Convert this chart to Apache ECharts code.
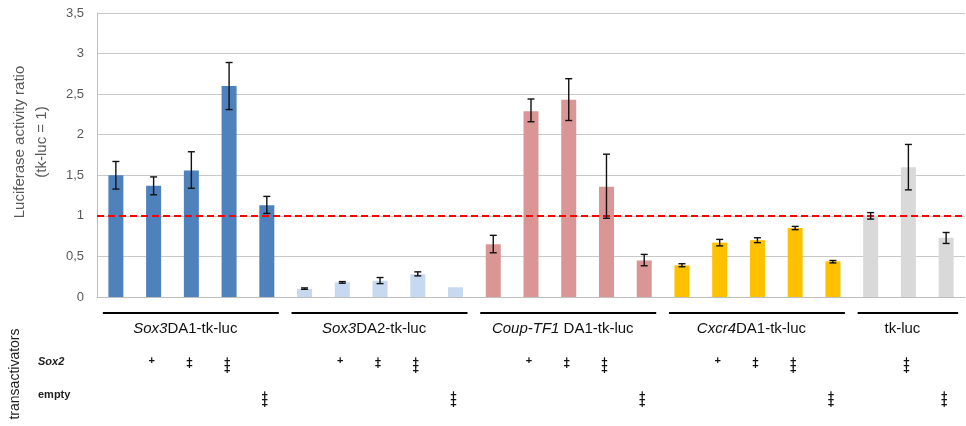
<!DOCTYPE html>
<html><head><meta charset="utf-8">
<script src="https://cdn.jsdelivr.net/npm/echarts@6/dist/echarts.min.js"></script>
<style>html,body{margin:0;padding:0;background:#fff}#c{width:966px;height:426px}</style>
</head><body><div id="c"></div>
<script>
// ---- data ----
const categories = ['S3DA1-0','S3DA1-1','S3DA1-2','S3DA1-3','S3DA1-e',
  'S3DA2-0','S3DA2-1','S3DA2-2','S3DA2-3','S3DA2-e',
  'CTF1-0','CTF1-1','CTF1-2','CTF1-3','CTF1-e',
  'CX4-0','CX4-1','CX4-2','CX4-3','CX4-e',
  'TK-0','TK-3','TK-e'];
const groupItalic = ['Sox3','Sox3','Coup-TF1','Cxcr4',''];
const groupRest = ['DA1-tk-luc','DA2-tk-luc',' DA1-tk-luc','DA1-tk-luc','tk-luc'];
const groupSizes = [5,5,5,5,3];
const groupColors = ['#4f81bd','#c6d9f1','#d99694','#ffc000','#d9d9d9'];
const values  = [1.50,1.37,1.56,2.60,1.13, 0.10,0.18,0.20,0.28,0.12, 0.65,2.29,2.43,1.36,0.45, 0.39,0.67,0.70,0.85,0.44, 1.00,1.60,0.73];
const errLow  = [1.33,1.26,1.34,2.31,1.03, 0.095,0.17,0.165,0.26,null, 0.545,2.16,2.175,0.97,0.385, 0.373,0.63,0.67,0.83,0.42, 0.96,1.32,0.66];
const errHigh = [1.67,1.48,1.79,2.89,1.24, 0.112,0.19,0.24,0.31,null, 0.76,2.44,2.69,1.76,0.525, 0.41,0.71,0.73,0.87,0.45, 1.04,1.88,0.795];
const sox2Dose  = [0,1,2,3,0, 0,1,2,3,0, 0,1,2,3,0, 0,1,2,3,0, 0,3,0];
const emptyDose = [0,0,0,0,3, 0,0,0,0,3, 0,0,0,0,3, 0,0,0,0,3, 0,0,3];
const yMin = 0, yMax = 3.5, yStep = 0.5;
const refLine = 1;

// ---- derived ----
const groupOf = [];
const groupRanges = [];
let k = 0;
groupSizes.forEach((n, g) => { groupRanges.push([k, k + n - 1, 0, g]); for (let j = 0; j < n; j++) groupOf.push(g); k += n; });
const errData = categories.map((c, i) => errLow[i] == null ? null : [i, errLow[i], errHigh[i]]).filter(Boolean);
const annoData = categories.map((c, i) => [i, 0, sox2Dose[i], emptyDose[i]]);
const FONT = "'Liberation Sans', Arial, sans-serif";

const chart = echarts.init(document.getElementById('c'), null, {renderer: 'canvas'});
chart.setOption({
  animation: false,
  backgroundColor: '#fff',
  grid: {left: 97, right: 1, top: 13, bottom: 129, containLabel: false},
  xAxis: {
    type: 'category', data: categories, boundaryGap: true,
    axisLine: {show: true, lineStyle: {color: '#bfbfbf', width: 1}},
    axisTick: {show: false}, axisLabel: {show: false}, splitLine: {show: false}
  },
  yAxis: {
    type: 'value', min: yMin, max: yMax, interval: yStep,
    axisLine: {show: true, lineStyle: {color: '#bfbfbf', width: 1}},
    axisTick: {show: false},
    axisLabel: {color: '#595959', fontSize: 13, fontFamily: FONT, margin: 13,
      formatter: v => String(v).replace('.', ',')},
    splitLine: {show: true, lineStyle: {color: '#c8c8c8', width: 1}}
  },
  graphic: [
    {type: 'text', x: 31, y: 142, rotation: Math.PI / 2,
     style: {text: 'Luciferase activity ratio\n(tk-luc = 1)', align: 'center', verticalAlign: 'middle',
       fontSize: 15, lineHeight: 22, fontFamily: FONT, fill: '#595959'}},
    {type: 'text', x: 15, y: 374, rotation: Math.PI / 2,
     style: {text: 'transactivators', align: 'center', verticalAlign: 'middle',
       fontSize: 14, fontFamily: FONT, fill: '#222'}},
    {type: 'text', x: 38, y: 362,
     style: {text: 'Sox2', align: 'left', verticalAlign: 'middle', fontSize: 11, fontStyle: 'italic',
       fontWeight: 'bold', fontFamily: FONT, fill: '#222'}},
    {type: 'text', x: 38, y: 395,
     style: {text: 'empty', align: 'left', verticalAlign: 'middle', fontSize: 11,
       fontWeight: 'bold', fontFamily: FONT, fill: '#222'}}
  ],
  series: [
    {
      type: 'bar', barWidth: 15, z: 2,
      data: values.map((v, i) => ({value: v, itemStyle: {color: groupColors[groupOf[i]]}})),
      markLine: {
        silent: true, symbol: ['none', 'none'], label: {show: false}, z: 5,
        lineStyle: {color: '#ff0000', width: 2, type: [7, 4]},
        data: [{yAxis: refLine}]
      }
    },
    {
      type: 'custom', z: 10, clip: false,
      data: errData, encode: {x: 0, y: [1, 2]},
      renderItem: (params, api) => {
        const lo = api.coord([api.value(0), api.value(1)]);
        const hi = api.coord([api.value(0), api.value(2)]);
        const cx = lo[0], w = 3.5;
        const st = {stroke: '#111', lineWidth: 1.4};
        return {type: 'group', children: [
          {type: 'line', shape: {x1: cx, y1: lo[1], x2: cx, y2: hi[1]}, style: st},
          {type: 'line', shape: {x1: cx - w, y1: lo[1], x2: cx + w, y2: lo[1]}, style: st},
          {type: 'line', shape: {x1: cx - w, y1: hi[1], x2: cx + w, y2: hi[1]}, style: st}
        ]};
      }
    },
    {
      type: 'custom', z: 10, clip: false, silent: true,
      data: annoData, encode: {x: 0, y: 1},
      renderItem: (params, api) => {
        const base = api.coord([api.value(0), 0]);
        const cx = base[0] - 2;
        const kids = [];
        const mk = (n, off) => ({type: 'text', style: {
          text: Array(n).fill('+').join('\n'), x: cx, y: base[1] + off,
          align: 'center', verticalAlign: 'top', fontSize: 11, lineHeight: 5,
          fontWeight: 'bold', fontFamily: FONT, fill: '#111'}});
        if (api.value(2) > 0) kids.push(mk(api.value(2), 61));
        if (api.value(3) > 0) kids.push(mk(api.value(3), 95));
        return {type: 'group', children: kids};
      }
    },
    {
      type: 'custom', z: 10, clip: false, silent: true,
      data: groupRanges, encode: {x: [0, 1], y: 2},
      renderItem: (params, api) => {
        const a = api.coord([api.value(0), 0]);
        const b = api.coord([api.value(1), 0]);
        const g = api.value(3);
        const x1 = a[0] - 13, x2 = b[0] + 12;
        const it = groupItalic[g];
        return {type: 'group', children: [
          {type: 'line', shape: {x1: x1, y1: a[1] + 16, x2: x2, y2: a[1] + 16},
           style: {stroke: '#000', lineWidth: 2}},
          {type: 'text', style: {
            text: (it ? '{i|' + it + '}' : '') + groupRest[g],
            x: (a[0] + b[0]) / 2 - 6, y: a[1] + 32, align: 'center', verticalAlign: 'middle',
            fontSize: 15, fontFamily: FONT, fill: '#111',
            rich: {i: {fontStyle: 'italic', fontSize: 15, fontFamily: FONT, fill: '#111'}}}}
        ]};
      }
    }
  ]
});
</script>
</body></html>
